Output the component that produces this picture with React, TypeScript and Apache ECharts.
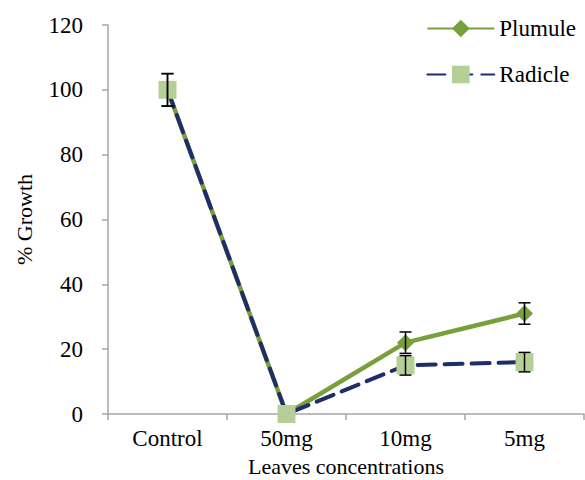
import React, { useEffect, useRef } from "react";
import * as echarts from "echarts";

const categories = ["Control", "50mg", "10mg", "5mg"];
const plumule = [100, 0, 22, 31];
const radicle = [100, 0, 15, 16];
const plumuleErr = [5, 0, 3.3, 3.3];
const radicleErr = [5, 0, 3, 3];
const yTicks = [0, 20, 40, 60, 80, 100, 120];

const FONT = "Liberation Serif";

function errData(vals: number[], errs: number[]) {
  return vals.map((v, i) => [i, v - errs[i], v + errs[i]]).filter((_, i) => errs[i] > 0);
}

const errRender = (params: any, api: any) => {
  const x = api.value(0);
  const lo = api.coord([x, api.value(1)]);
  const hi = api.coord([x, api.value(2)]);
  const w = 6;
  const style = { stroke: "#000", lineWidth: 1.5 };
  return {
    type: "group",
    children: [
      { type: "line", shape: { x1: lo[0], y1: lo[1], x2: hi[0], y2: hi[1] }, style },
      { type: "line", shape: { x1: lo[0] - w, y1: lo[1], x2: lo[0] + w, y2: lo[1] }, style },
      { type: "line", shape: { x1: hi[0] - w, y1: hi[1], x2: hi[0] + w, y2: hi[1] }, style },
    ],
  };
};

const txt = { fontFamily: FONT, fontSize: 23, color: "#000", fontWeight: "normal" as const };

export default function App() {
  const ref = useRef<HTMLDivElement>(null);
  useEffect(() => {
    const chart = echarts.init(ref.current!, null, { renderer: "svg" });
    chart.setOption({
      animation: false,
      backgroundColor: "#fff",
      grid: { left: 108, right: 1, top: 25, bottom: 66, containLabel: false, outerBoundsMode: "none" },
      legend: {
        orient: "vertical",
        right: 4,
        top: 12,
        itemWidth: 67,
        itemHeight: 22,
        itemGap: 23,
        textStyle: { ...txt },
        data: ["Plumule", "Radicle"],
      },
      xAxis: {
        type: "category",
        data: categories,
        boundaryGap: true,
        name: "Leaves concentrations",
        nameLocation: "middle",
        nameGap: 43,
        nameTextStyle: { ...txt, fontSize: 22, lineHeight: 18 },
        axisLine: { lineStyle: { color: "#A6A6A6", width: 1.5 } },
        axisTick: { show: true, alignWithLabel: false, length: 6, lineStyle: { color: "#A6A6A6", width: 1.5 } },
        axisLabel: { ...txt, margin: 13 },
      },
      yAxis: {
        type: "value",
        min: yTicks[0],
        max: yTicks[yTicks.length - 1],
        interval: 20,
        name: "% Growth",
        nameLocation: "middle",
        nameGap: 73,
        nameRotate: 90,
        nameTextStyle: { ...txt, fontSize: 22 },
        axisLine: { show: true, lineStyle: { color: "#A6A6A6", width: 1.5 } },
        axisTick: { show: true, length: 6, lineStyle: { color: "#A6A6A6", width: 1.5 } },
        axisLabel: { ...txt, margin: 25 },
        splitLine: { show: false },
      },
      series: [
        {
          name: "Plumule",
          type: "line",
          data: plumule,
          symbol: "diamond",
          symbolSize: 17,
          lineStyle: { color: "#77A03C", width: 4.5 },
          itemStyle: { color: "#77A03C" },
          z: 2,
        },
        {
          name: "Radicle",
          type: "line",
          data: radicle,
          symbol: "rect",
          symbolSize: 18,
          lineStyle: { color: "#1F2D6B", width: 4, type: [18, 9], cap: "round" },
          itemStyle: { color: "#B5D096" },
          z: 3,
        },
        {
          type: "custom",
          renderItem: errRender,
          data: errData(plumule, plumuleErr),
          z: 4,
          silent: true,
        },
        {
          type: "custom",
          renderItem: errRender,
          data: errData(radicle, radicleErr),
          z: 4,
          silent: true,
        },
      ],
    });
    return () => chart.dispose();
  }, []);
  return <div ref={ref} style={{ width: 585, height: 480, position: "absolute", left: 0, top: 0 }} />;
}
